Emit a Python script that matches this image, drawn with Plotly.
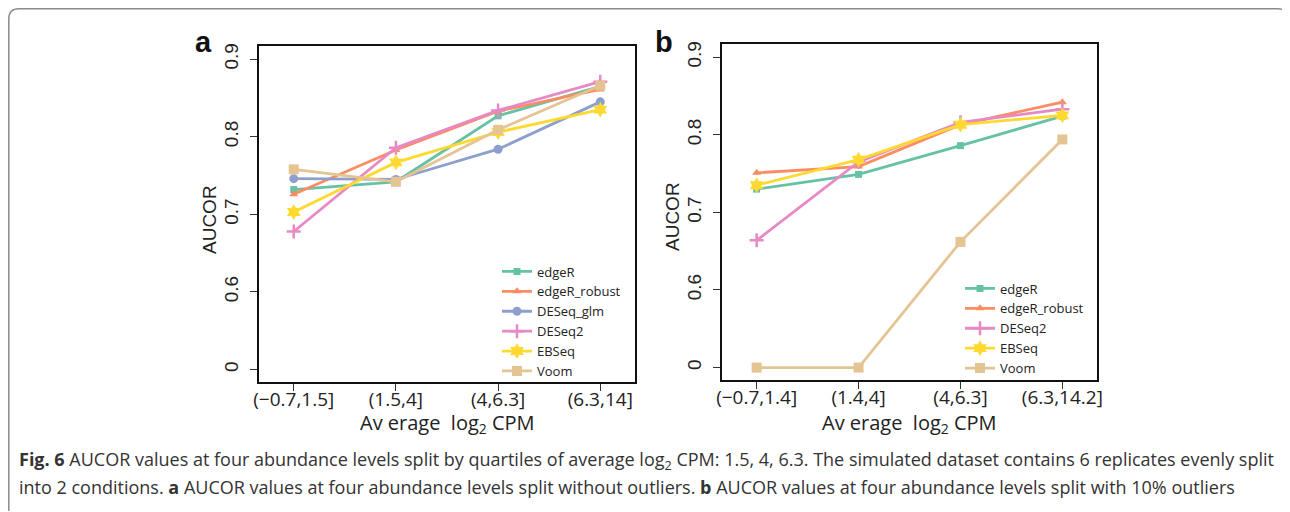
import plotly.graph_objects as go

# ---------------- data ----------------
cats_a = ["(\u22120.7,1.5]", "(1.5,4]", "(4,6.3]", "(6.3,14]"]
cats_b = ["(\u22120.7,1.4]", "(1.4,4]", "(4,6.3]", "(6.3,14.2]"]

a_edgeR = [0.732, 0.742, 0.827, 0.865]
a_edgeR_robust = [0.726, 0.783, 0.833, 0.861]
a_DESeq_glm = [0.746, 0.745, 0.784, 0.845]
a_DESeq2 = [0.678, 0.786, 0.834, 0.871]
a_EBSeq = [0.703, 0.767, 0.806, 0.835]
a_Voom = [0.758, 0.742, 0.809, 0.866]

b_edgeR = [0.730, 0.749, 0.786, 0.824]
b_edgeR_robust = [0.751, 0.759, 0.813, 0.842]
b_DESeq2 = [0.664, 0.765, 0.816, 0.833]
b_EBSeq = [0.735, 0.768, 0.813, 0.825]
b_Voom = [0.0, 0.0, 0.662, 0.794]

ytick_vals = [0.0, 0.6, 0.7, 0.8, 0.9]

# ---------------- styles ----------------
colors = {
    "edgeR": "#66C2A5",
    "edgeR_robust": "#FC8D62",
    "DESeq_glm": "#8DA0CB",
    "DESeq2": "#E78AC3",
    "EBSeq": "#FFD92F",
    "Voom": "#E5C494",
}
symbols = {
    "edgeR": ("square", 7),
    "edgeR_robust": ("triangle-up", 8),
    "DESeq_glm": ("circle", 9),
    "DESeq2": ("cross-thin", 10),
    "EBSeq": ("hexagram", 12),
    "Voom": ("square", 10),
}

# page has an 8px body margin; figure sized to fit the window
OFF = 8
W, H = 1290 - OFF, 512 - OFF


def px(x):
    return (x - OFF) / W


def py(y):
    return 1 - (y - OFF) / H


def brk(v):
    # broken axis: value 0 is drawn at the 0.5 position below the break
    return 0.5 if v == 0 else v


def ypos(vals):
    return [brk(v) for v in vals]


fig = go.Figure()

panel_a = [("edgeR", a_edgeR), ("edgeR_robust", a_edgeR_robust), ("DESeq_glm", a_DESeq_glm),
           ("DESeq2", a_DESeq2), ("EBSeq", a_EBSeq), ("Voom", a_Voom)]
panel_b = [("edgeR", b_edgeR), ("edgeR_robust", b_edgeR_robust), ("DESeq2", b_DESeq2),
           ("EBSeq", b_EBSeq), ("Voom", b_Voom)]


def add(name, vals, xa, ya, legend):
    sym, size = symbols[name]
    mline = dict(width=2.5, color=colors[name]) if sym == "cross-thin" else dict(width=0)
    fig.add_trace(go.Scatter(
        x=[1, 2, 3, 4], y=ypos(vals), customdata=vals,
        mode="lines+markers", name=name,
        line=dict(color=colors[name], width=2.8),
        marker=dict(symbol=sym, size=size, color=colors[name], line=mline),
        xaxis=xa, yaxis=ya, legend=legend,
        hovertemplate=name + ": %{customdata}<extra></extra>",
    ))


for n, v in panel_a:
    add(n, v, "x", "y", "legend")
for n, v in panel_b:
    add(n, v, "x2", "y2", "legend2")

tickfont_y = dict(family="Liberation Sans, Arial, sans-serif", size=19, color="#222")
tickfont_x = dict(family="Open Sans, sans-serif", size=19, color="#222")


def xaxis(dom, cats):
    return dict(domain=dom, range=[0.66, 4.34], tickvals=[1, 2, 3, 4], ticktext=cats,
                showline=True, mirror=True, linecolor="#111", linewidth=1.5,
                ticks="outside", ticklen=7, tickwidth=1.2, tickcolor="#333",
                showgrid=False, zeroline=False, tickfont=tickfont_x, automargin=False,
                ticklabelstandoff=-8)


def yaxis(dom, anchor):
    return dict(domain=dom, range=[0.484, 0.917], anchor=anchor,
                tickvals=[brk(v) for v in ytick_vals], ticktext=[("0" if v == 0 else f"{v:.1f}") for v in ytick_vals],
                tickangle=-90, showline=True, mirror=True, linecolor="#111", linewidth=1.5,
                ticks="outside", ticklen=7, tickwidth=1.2, tickcolor="#333",
                showgrid=False, zeroline=False, tickfont=tickfont_y, automargin=False,
                ticklabelstandoff=5)


leg_font = dict(family="Open Sans, sans-serif", size=13, color="#222")
fig.update_layout(
    width=W, height=H,
    margin=dict(l=0, r=0, t=0, b=0, autoexpand=False),
    paper_bgcolor="white", plot_bgcolor="white",
    showlegend=True,
    xaxis=dict(xaxis([px(259), px(635)], cats_a), anchor="y"),
    yaxis=yaxis([py(382), py(46)], "x"),
    xaxis2=dict(xaxis([px(722), px(1097)], cats_b), anchor="y2"),
    yaxis2=yaxis([py(380), py(44)], "x2"),
    legend=dict(x=px(497), y=py(256.5), xanchor="left", yanchor="top",
                bgcolor="rgba(0,0,0,0)", font=leg_font),
    legend2=dict(x=px(960), y=py(273.5), xanchor="left", yanchor="top",
                 bgcolor="rgba(0,0,0,0)", font=leg_font),
)

ann = []
title_font = dict(family="Open Sans, sans-serif", size=20, color="#222")
for cx, cy in [(447, 423), (909.5, 423)]:
    ann.append(dict(x=px(cx), y=py(cy), xref="paper", yref="paper", text="Av erage  log<sub>2</sub> CPM",
                    showarrow=False, font=title_font, xanchor="center", yanchor="middle"))
for cx, cy in [(209, 219), (672, 217)]:
    ann.append(dict(x=px(cx), y=py(cy), xref="paper", yref="paper", text="AUCOR", textangle=-90,
                    showarrow=False, font=dict(family="Liberation Sans, Arial, sans-serif", size=19, color="#222"),
                    xanchor="center", yanchor="middle"))
for txt, cx, cy in [("a", 203, 42), ("b", 664, 42)]:
    ann.append(dict(x=px(cx), y=py(cy), xref="paper", yref="paper", text="<b>" + txt + "</b>",
                    showarrow=False, font=dict(family="Liberation Sans, Arial, sans-serif", size=29, color="#111"),
                    xanchor="center", yanchor="middle"))

cap_font = dict(family="Open Sans, sans-serif", size=18, color="#333")
cap1 = ("<b>Fig. 6</b> AUCOR values at four abundance levels split by quartiles of average log<sub>2</sub> CPM: 1.5, 4, 6.3. "
        "The simulated dataset contains 6 replicates evenly split")
cap2 = ("into 2 conditions. <b>a</b> AUCOR values at four abundance levels split without outliers. "
        "<b>b</b> AUCOR values at four abundance levels split with 10% outliers")
ann.append(dict(x=px(17), y=py(460), xref="paper", yref="paper", text=cap1, showarrow=False,
                font=cap_font, xanchor="left", yanchor="middle"))
ann.append(dict(x=px(17), y=py(487), xref="paper", yref="paper", text=cap2, showarrow=False,
                font=cap_font, xanchor="left", yanchor="middle"))
fig.update_layout(annotations=ann)

# rounded outer frame (kept just inside the figure area)
x0, x1, y0, y1, r = 8.8, 1288, 8.8, 511, 10
path = (f"M {px(x0)},{py(y1)} L {px(x0)},{py(y0 + r)} Q {px(x0)},{py(y0)} {px(x0 + r)},{py(y0)} "
        f"L {px(x1 - r)},{py(y0)} Q {px(x1)},{py(y0)} {px(x1)},{py(y0 + r)} L {px(x1)},{py(y1)}")
fig.add_shape(type="path", path=path, xref="paper", yref="paper", line=dict(color="#8a8a8a", width=1.5))

fig.write_html("out.html")
